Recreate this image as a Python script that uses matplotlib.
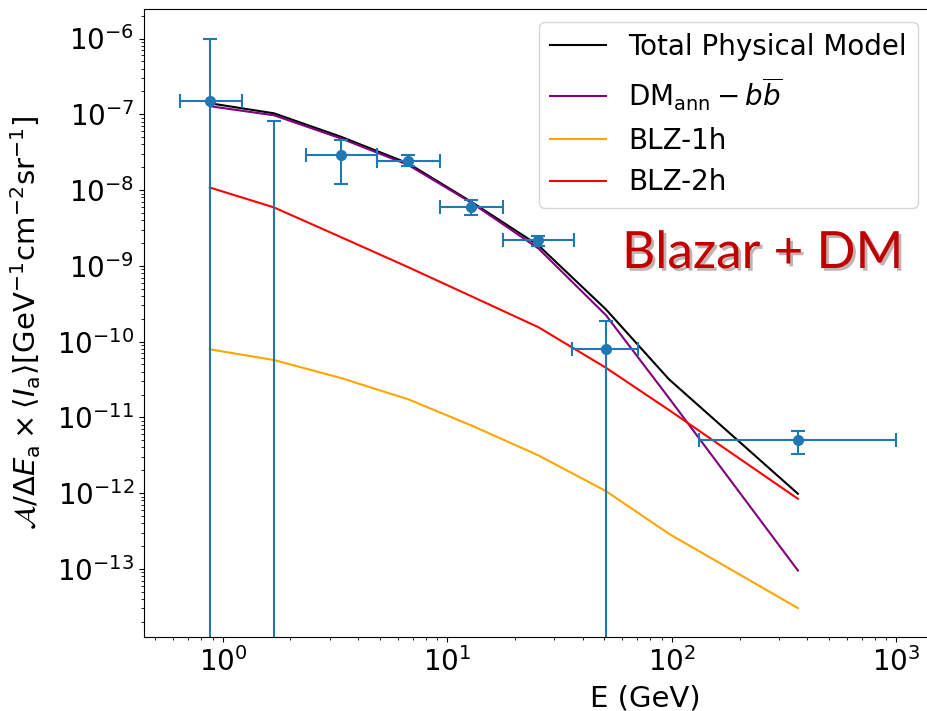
import numpy as np
import matplotlib
matplotlib.use("Agg")
import matplotlib.pyplot as plt
import matplotlib.patheffects as pe

# measured data points (bin centres, flux, errors)
E_data = [0.875, 1.69, 3.36, 6.69, 12.8, 25.4, 50.9, 364.0]
E_lo = [0.644, 1.69, 2.35, 4.87, 9.3, 17.7, 36.0, 132.0]
E_hi = [1.223, 1.69, 4.87, 9.25, 17.7, 36.7, 70.4, 1000.0]
flux = [1.49e-7, 0.0, 2.89e-8, 2.43e-8, 5.89e-9, 2.18e-9, 7.9e-11, 5.07e-12]
flux_lo = [0.0, 0.0, 1.19e-8, 2.1e-8, 4.7e-9, 1.8e-9, 0.0, 3.3e-12]
flux_hi = [1.0e-6, 8.1e-8, 4.56e-8, 2.9e-8, 7.3e-9, 2.5e-9, 1.87e-10, 6.5e-12]

# model curves
E_model = [0.875, 1.69, 3.36, 6.69, 12.8, 25.4, 50.9, 97.0, 364.0]
total = [1.40e-7, 1.03e-7, 5.05e-8, 2.25e-8, 6.98e-9, 1.87e-9, 2.65e-10, 3.18e-11, 9.8e-13]
dm_bb = [1.28e-7, 9.7e-8, 4.8e-8, 2.15e-8, 6.8e-9, 1.7e-9, 2.22e-10, 1.8e-11, 9.5e-14]
blz_1h = [7.9e-11, 5.7e-11, 3.3e-11, 1.73e-11, 7.8e-12, 3.15e-12, 1.06e-12, 2.9e-13, 3.03e-14]
blz_2h = [1.08e-8, 5.9e-9, 2.39e-9, 9.6e-10, 3.96e-10, 1.55e-10, 4.5e-11, 1.25e-11, 8.4e-13]

plt.rcParams['font.size'] = 20

W, H = 928, 711
fig = plt.figure(figsize=(W / 100, H / 100), dpi=100)
# axes runs past the right edge (picture was cropped)
ax = fig.add_axes([144 / W, 74 / H, 816 / W, 628 / H])

ax.plot(E_model, total, color='black', label='Total Physical Model')
ax.plot(E_model, dm_bb, color='purple', label=r'$\mathrm{DM_{ann}} - b\overline{b}$')
ax.plot(E_model, blz_1h, color='orange', label='BLZ-1h')
ax.plot(E_model, blz_2h, color='red', label='BLZ-2h')

E = np.array(E_data)
f = np.array(flux)
xerr = [E - np.array(E_lo), np.array(E_hi) - E]
yerr = [f - np.array(flux_lo), np.array(flux_hi) - f]
ax.errorbar(E, f, xerr=xerr, yerr=yerr, fmt='o', color='tab:blue',
            capsize=5, markersize=7, elinewidth=1.5, capthick=1.5)

ax.set_xscale('log')
ax.set_yscale('log')
ax.set_xlim(10 ** -0.351, 10 ** 3.283)
ax.set_ylim(10 ** -13.9, 10 ** -5.61)

ax.set_xlabel('E (GeV)', fontsize=21)
ax.xaxis.set_label_coords((645 - 144) / 816, -0.075)
ax.set_ylabel(r'$\mathcal{A}/\Delta E_{\rm a}\times\langle I_{\rm a}\rangle[{\rm GeV}^{-1}{\rm cm}^{-2}{\rm sr}^{-1}]$',
              fontsize=21)
ax.yaxis.set_label_coords(-0.124, 0.5)

ax.legend(loc='upper right', fontsize=20, borderaxespad=0,
          bbox_to_anchor=(918 / W, 1 - 22 / H), bbox_transform=fig.transFigure)

fig.text(622 / W, 1 - 268 / H, 'Blazar + DM', color='#c00000',
         fontsize=37, family='Lato', va='baseline',
         path_effects=[pe.withSimplePatchShadow(offset=(2, -2), alpha=0.3)])

fig.savefig('out.png', dpi=100)
